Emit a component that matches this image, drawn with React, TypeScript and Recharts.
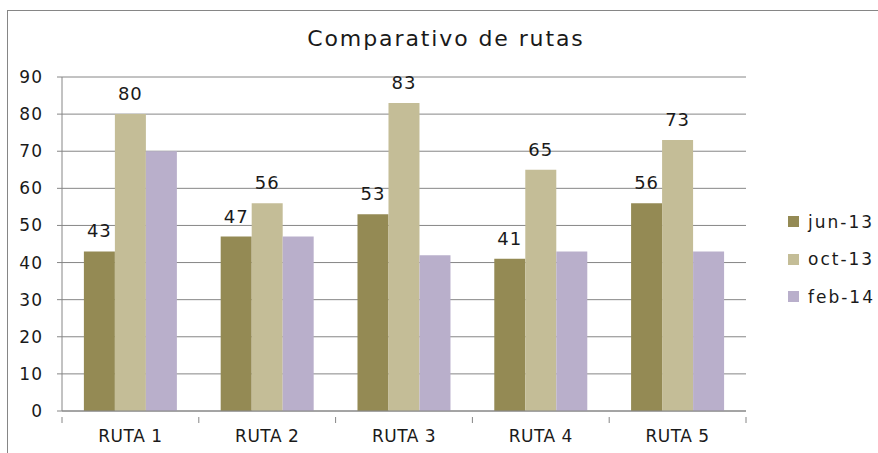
import React from "react";
import {
  BarChart,
  Bar,
  XAxis,
  YAxis,
  CartesianGrid,
  Legend,
  LabelList,
} from "recharts";

const categories = ["RUTA 1", "RUTA 2", "RUTA 3", "RUTA 4", "RUTA 5"];
const jun13 = [43, 47, 53, 41, 56];
const oct13 = [80, 56, 83, 65, 73];
const feb14 = [70, 47, 42, 43, 43];
const yTicks = [0, 10, 20, 30, 40, 50, 60, 70, 80, 90];

const SERIES = [
  { key: "jun13", name: "jun-13", color: "#948A54", labels: true },
  { key: "oct13", name: "oct-13", color: "#C4BD97", labels: true },
  { key: "feb14", name: "feb-14", color: "#B9AFCB", labels: false },
];

const data = categories.map((c, i) => ({
  name: c,
  jun13: jun13[i],
  oct13: oct13[i],
  feb14: feb14[i],
}));

const FONT = "'DejaVu Sans', Verdana, sans-serif";
const GRID = "#868686";
const TEXT = "#1a1a1a";

// category label plus the tick marks on the band edges (Excel style)
function CategoryTick(props: any) {
  const { x, y, payload, index } = props;
  const half = payload?.offset ?? 0;
  const top = y - 13;
  return (
    <g>
      <line x1={x - half} x2={x - half} y1={top} y2={top + 6} stroke={GRID} />
      {index === categories.length - 1 && (
        <line x1={x + half} x2={x + half} y1={top} y2={top + 6} stroke={GRID} />
      )}
      <text
        x={x}
        y={y}
        dy="0.71em"
        textAnchor="middle"
        fill={TEXT}
        fontSize={17}
        fontFamily={FONT}
        letterSpacing={0.5}
      >
        {payload.value}
      </text>
    </g>
  );
}

function LegendBox() {
  return (
    <div style={{ fontFamily: FONT }}>
      {SERIES.map((s) => (
        <div
          key={s.key}
          style={{ display: "flex", alignItems: "center", height: 37.5 }}
        >
          <span
            style={{
              width: 11,
              height: 11,
              background: s.color,
              display: "inline-block",
              marginRight: 9,
            }}
          />
          <span style={{ fontSize: 17, letterSpacing: 2, color: TEXT }}>
            {s.name}
          </span>
        </div>
      ))}
    </div>
  );
}

export default function App() {
  return (
    <div style={{ position: "relative", width: 878, height: 453, overflow: "hidden", background: "#fff" }}>
      <style>{`body{margin:0}`}</style>
      <div
        style={{
          position: "absolute",
          left: 7,
          top: 10,
          width: 900,
          height: 500,
          border: `1px solid ${GRID}`,
          boxSizing: "border-box",
        }}
      />
      <div
        style={{
          position: "absolute",
          left: 0,
          top: 26,
          width: 892,
          textAlign: "center",
          fontFamily: FONT,
          fontSize: 22,
          letterSpacing: 1.9,
          color: TEXT,
        }}
      >
        Comparativo de rutas
      </div>
      <div style={{ position: "absolute", left: 0, top: 0 }}>
        <BarChart
          width={878}
          height={453}
          data={data}
          margin={{ top: 77, right: 42, bottom: 0, left: 0 }}
          barCategoryGap="16%"
          barGap={0}
        >
          <CartesianGrid vertical={false} stroke={GRID} strokeWidth={1} />
          <XAxis
            dataKey="name"
            height={42}
            axisLine={{ stroke: GRID }}
            tickLine={false}
            tickMargin={13}
            tick={<CategoryTick />}
            interval={0}
          />
          <YAxis
            width={62}
            domain={[0, 90]}
            ticks={yTicks}
            interval={0}
            axisLine={{ stroke: GRID }}
            tickLine={{ stroke: GRID }}
            tickSize={5}
            tickMargin={14}
            tick={{ fill: TEXT, fontSize: 17, fontFamily: FONT, letterSpacing: 1 }}
          />
          <Legend
            layout="vertical"
            align="right"
            verticalAlign="middle"
            width={90}
            wrapperStyle={{ left: 788, top: 203 }}
            content={() => <LegendBox />}
          />
          {SERIES.map((s) => (
            <Bar
              key={s.key}
              dataKey={s.key}
              name={s.name}
              fill={s.color}
              isAnimationActive={false}
            >
              {s.labels && (
                <LabelList
                  dataKey={s.key}
                  position="top"
                  offset={14}
                  fill={TEXT}
                  fontSize={18}
                  fontFamily={FONT}
                  letterSpacing={1}
                />
              )}
            </Bar>
          ))}
        </BarChart>
      </div>
    </div>
  );
}
